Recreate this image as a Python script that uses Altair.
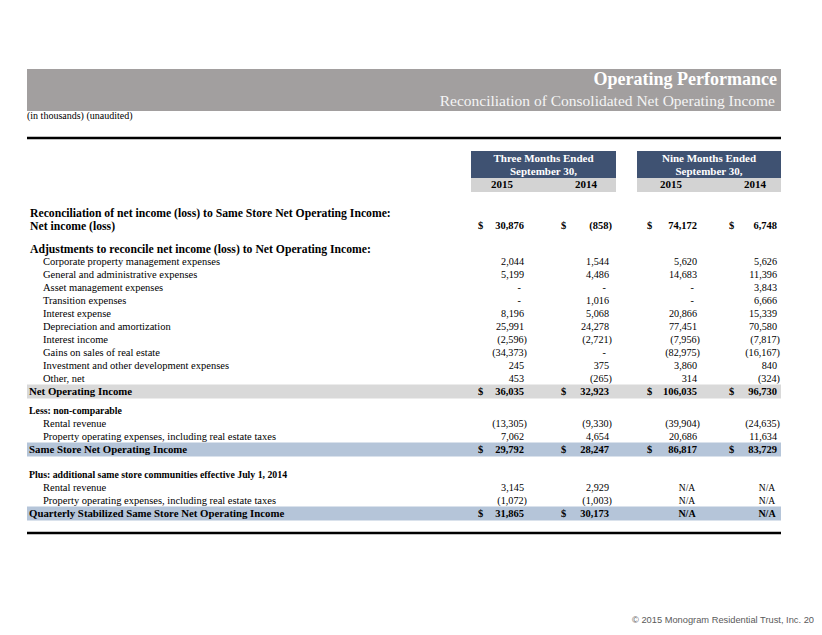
import altair as alt
import pandas as pd

# ---------------- data ----------------
title = "Operating Performance"
subtitle = "Reconciliation of Consolidated Net Operating Income"
note = "(in thousands) (unaudited)"
period_heads = ["Three Months Ended", "Nine Months Ended"]
period_sub = "September 30,"
years = ["2015", "2014", "2015", "2014"]
footer = "\u00a9 2015 Monogram Residential Trust, Inc.  20"

labels = [
    "Reconciliation of net income (loss) to Same Store Net Operating Income:",
    "Net income (loss)",
    "Adjustments to reconcile net income (loss) to Net Operating Income:",
    "Corporate property management expenses",
    "General and administrative expenses",
    "Asset management expenses",
    "Transition expenses",
    "Interest expense",
    "Depreciation and amortization",
    "Interest income",
    "Gains on sales of real estate",
    "Investment and other development expenses",
    "Other, net",
    "Net Operating Income",
    "Less:  non-comparable",
    "Rental revenue",
    "Property operating expenses, including real estate taxes",
    "Same Store Net Operating Income",
    "Plus:  additional same store communities effective July 1, 2014",
    "Rental revenue",
    "Property operating expenses, including real estate taxes",
    "Quarterly Stabilized Same Store Net Operating Income",
]
kinds = ["section", "total", "section", "item", "item", "item", "item", "item", "item",
         "item", "item", "item", "item", "band_gray", "sub", "item", "item", "band_blue",
         "sub", "item", "item", "band_blue"]

q3_2015 = [None, 30876, None, 2044, 5199, "-", "-", 8196, 25991, -2596, -34373, 245, 453,
           36035, None, -13305, 7062, 29792, None, 3145, -1072, 31865]
q3_2014 = [None, -858, None, 1544, 4486, "-", 1016, 5068, 24278, -2721, "-", 375, -265,
           32923, None, -9330, 4654, 28247, None, 2929, -1003, 30173]
ytd_2015 = [None, 74172, None, 5620, 14683, "-", "-", 20866, 77451, -7956, -82975, 3860, 314,
            106035, None, -39904, 20686, 86817, None, "N/A", "N/A", "N/A"]
ytd_2014 = [None, 6748, None, 5626, 11396, 3843, 6666, 15339, 70580, -7817, -16167, 840, -324,
            96730, None, -24635, 11634, 83729, None, "N/A", "N/A", "N/A"]
value_cols = [q3_2015, q3_2014, ytd_2015, ytd_2014]

# ---------------- layout ----------------
LEFT, RIGHT = 27, 781
COL_R = [524, 609, 697, 777]
COL_DOLLAR = [478, 561, 647, 729]
Y0, STEP = 212.5, 13
GAPS = {2: 10, 14: 6, 18: 12}

row_y = []
acc = 0
for i in range(len(labels)):
    acc += GAPS.get(i, 0)
    row_y.append(Y0 + STEP * i + acc)

SERIF = "Liberation Serif"

def fmt(v):
    if isinstance(v, str):
        return v
    s = f"{abs(v):,}"
    return f"({s})" if v < 0 else s

rects, texts, rules = [], [], []

def T(x, y, text, size, weight="normal", align="left", color="#000000", font=SERIF):
    texts.append(dict(x=x, y=y, text=text, size=size, weight=weight, align=align,
                      color=color, font=font))

# title band
rects.append(dict(x=LEFT, x2=RIGHT, y=69, y2=111, c="#a29f9f"))
T(777, 80, title, 18, "bold", "right", "#ffffff")
T(775, 101, subtitle, 15.5, "normal", "right", "#f4f4f4")
T(LEFT, 116, note, 10)
rules.append(dict(x=LEFT, x2=RIGHT, y=138, w=2.5))
rules.append(dict(x=LEFT, x2=RIGHT, y=533, w=2.5))

# column headers
boxes = [(471, 616), (637, 781)]
for (bx, bx2), head in zip(boxes, period_heads):
    rects.append(dict(x=bx, x2=bx2, y=151, y2=178, c="#3f5272"))
    rects.append(dict(x=bx, x2=bx2, y=178, y2=192, c="#d3d3d3"))
    cx = (bx + bx2) / 2
    T(cx, 158.5, head, 11, "bold", "center", "#ffffff")
    T(cx, 171.5, period_sub, 11, "bold", "center", "#ffffff")
year_x = [502, 586, 671, 755]
for yx, yr in zip(year_x, years):
    T(yx, 185, yr, 11, "bold", "center")

# rows
for i, (lab, kind) in enumerate(zip(labels, kinds)):
    y = row_y[i]
    bold_total = kind in ("total", "band_gray", "band_blue")
    if kind == "band_gray":
        rects.append(dict(x=LEFT, x2=RIGHT, y=y - 7, y2=y + 7, c="#d9d9d9"))
    if kind == "band_blue":
        rects.append(dict(x=LEFT, x2=RIGHT, y=y - 7, y2=y + 7, c="#b5c5d9"))
    if kind in ("section", "total"):
        T(30, y, lab, 11.7, "bold")
    elif bold_total:
        T(29, y, lab, 10.8, "bold")
    elif kind == "sub":
        T(29, y, lab, 9.8, "bold")
    else:
        T(43, y, lab, 10.5)
    for c, col in enumerate(value_cols):
        v = col[i]
        if v is None:
            continue
        w = "bold" if bold_total else "normal"
        sz = 10.5 if bold_total else 10.2
        if v == "N/A":
            T(COL_R[c] - 10, y, v, 9.5 if not bold_total else 10, w, "center")
            continue
        if v == "-":
            T(COL_R[c] - 3, y, v, sz, w, "right")
            continue
        if bold_total:
            T(COL_DOLLAR[c], y, "$", sz, w, "left")
        T(COL_R[c] + (3 if v < 0 else 0), y, fmt(v), sz, w, "right")

T(814, 620, footer, 9.3, "normal", "right", "#5a5a5a", "Liberation Sans")

# ---------------- chart ----------------
xs = alt.Scale(domain=[8, 814], nice=False, zero=False)
ys = alt.Scale(domain=[8, 627], nice=False, zero=False, reverse=True)

rect_df = pd.DataFrame(rects)
rule_df = pd.DataFrame(rules)
text_df = pd.DataFrame(texts)

rect_layer = alt.Chart(rect_df).mark_rect().encode(
    x=alt.X("x:Q", scale=xs, axis=None), x2="x2:Q",
    y=alt.Y("y:Q", scale=ys, axis=None), y2="y2:Q",
    color=alt.Color("c:N", scale=None),
)
rule_layer = alt.Chart(rule_df).mark_rule(color="#000000").encode(
    x=alt.X("x:Q", scale=xs, axis=None), x2="x2:Q",
    y=alt.Y("y:Q", scale=ys, axis=None),
    strokeWidth=alt.StrokeWidth("w:Q", scale=None),
)

layers = [rect_layer, rule_layer]
for (align, weight, font), sub in text_df.groupby(["align", "weight", "font"]):
    layers.append(
        alt.Chart(sub).mark_text(align=align, baseline="middle", fontWeight=weight, font=font).encode(
            x=alt.X("x:Q", scale=xs, axis=None),
            y=alt.Y("y:Q", scale=ys, axis=None),
            text="text:N",
            size=alt.Size("size:Q", scale=None),
            color=alt.Color("color:N", scale=None),
        )
    )

chart = alt.layer(*layers).properties(
    width=806, height=619, padding=0,
    autosize=alt.AutoSizeParams(type="none"),
    background="#ffffff",
).configure_view(stroke=None)

chart.save("out.html", embed_options={"renderer": "svg", "actions": False})
